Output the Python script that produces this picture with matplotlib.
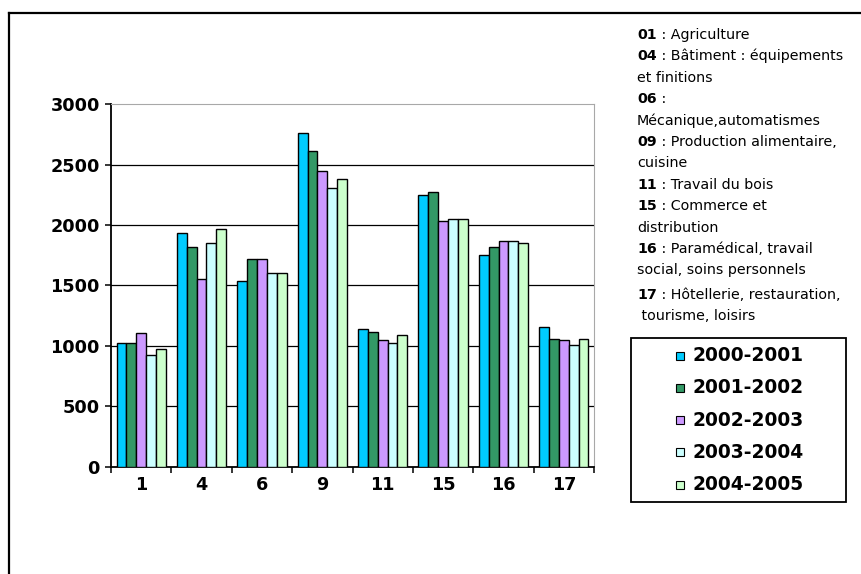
import matplotlib
matplotlib.use('Agg')
import matplotlib.pyplot as plt
import numpy as np
from matplotlib.patches import Rectangle
from matplotlib.lines import Line2D

# category codes on the x axis
categories = ['1', '4', '6', '9', '11', '15', '16', '17']
years = ['2000-2001', '2001-2002', '2002-2003', '2003-2004', '2004-2005']

y2000_2001 = [1025, 1930, 1535, 2760, 1140, 2245, 1750, 1155]
y2001_2002 = [1025, 1815, 1720, 2610, 1110, 2270, 1815, 1055]
y2002_2003 = [1105, 1550, 1720, 2445, 1045, 2030, 1865, 1045]
y2003_2004 = [925, 1850, 1600, 2310, 1020, 2050, 1865, 1005]
y2004_2005 = [970, 1965, 1600, 2380, 1090, 2050, 1850, 1055]
series = [y2000_2001, y2001_2002, y2002_2003, y2003_2004, y2004_2005]

colors = ['#00CCFF', '#339966', '#CC99FF', '#CCFFFF', '#CCFFCC']

# code : label notes shown at the right
note_codes = ['01', '04', None, '06', None, '09', None, '11', '15', None, '16', None, '17', None]
note_texts = [' : Agriculture', ' : Bâtiment : équipements', 'et finitions', ' :',
              'Mécanique,automatismes', ' : Production alimentaire,', 'cuisine',
              ' : Travail du bois', ' : Commerce et', 'distribution',
              ' : Paramédical, travail', 'social, soins personnels',
              ' : Hôtellerie, restauration,', ' tourisme, loisirs']

W, H = 861, 574
fig = plt.figure(figsize=(W / 100, H / 100), dpi=100)


def fx(px):
    return px / W


def fy(py):
    return 1 - py / H


ax = fig.add_axes([fx(111), fy(466.5), (594 - 111) / W, (466.5 - 104.3) / H])

x = np.arange(len(categories))
bw = 0.163
for k in range(len(series)):
    ax.bar(x + (k - 2) * bw, series[k], width=bw, color=colors[k],
           edgecolor='black', linewidth=1.0, zorder=3)

ax.set_xlim(-0.5, len(categories) - 0.5)
ax.set_ylim(0, 3000)
ax.set_yticks(np.arange(0, 3001, 500))
ax.set_xticks(x)
ax.set_xticklabels(categories)
ax.set_xticks(np.arange(-0.5, len(categories), 1), minor=True)

ax.yaxis.grid(True, color='black', linewidth=0.9)
ax.set_axisbelow(True)
gl = ax.yaxis.get_gridlines()
gl[0].set_visible(False)
gl[-1].set_visible(False)

ax.tick_params(axis='x', which='major', length=0, pad=7)
ax.tick_params(axis='x', which='minor', length=4, width=1.1, direction='out')
ax.tick_params(axis='y', length=4, width=1.1, direction='out', pad=4)
for lab in ax.get_xticklabels() + ax.get_yticklabels():
    lab.set_fontfamily('DejaVu Sans')
    lab.set_fontweight('bold')
    lab.set_fontsize(12.7)

for side in ['left', 'bottom']:
    ax.spines[side].set_color('black')
    ax.spines[side].set_linewidth(1.3)
for side in ['top', 'right']:
    ax.spines[side].set_color('#A8A8A8')
    ax.spines[side].set_linewidth(0.8)

# notes column
y0 = 35
step = 21.4
for i in range(len(note_texts)):
    yc = y0 + i * step + (3 if i >= 12 else 0)
    if note_codes[i] is not None:
        t = fig.text(fx(637), fy(yc), note_codes[i], fontsize=10.3, fontweight='bold',
                     va='center', ha='left')
        ax.annotate(note_texts[i], xy=(1, 0), xycoords=t, fontsize=10.3,
                    va='bottom', ha='left', annotation_clip=False)
    else:
        fig.text(fx(637), fy(yc), note_texts[i], fontsize=10.3, va='center', ha='left')

# legend box
fig.add_artist(Rectangle((fx(631), fy(502)), (846 - 631) / W, (502 - 338) / H,
                         transform=fig.transFigure, fill=False,
                         edgecolor='black', linewidth=1.3))
for k in range(len(years)):
    ly = 355.5 + k * 32.3
    fig.add_artist(Rectangle((fx(676), fy(ly + 4)), 8 / W, 8 / H,
                             transform=fig.transFigure, facecolor=colors[k],
                             edgecolor='black', linewidth=0.8))
    fig.text(fx(693), fy(ly), years[k], fontsize=13.4, fontweight='bold',
             va='center', ha='left')

# outer frame, left and top sides
fig.add_artist(Line2D([fx(9), fx(9)], [0, fy(13)], color='black', linewidth=1.6))
fig.add_artist(Line2D([fx(9), 1], [fy(13), fy(13)], color='black', linewidth=1.6))

fig.savefig('out.png', dpi=100)
